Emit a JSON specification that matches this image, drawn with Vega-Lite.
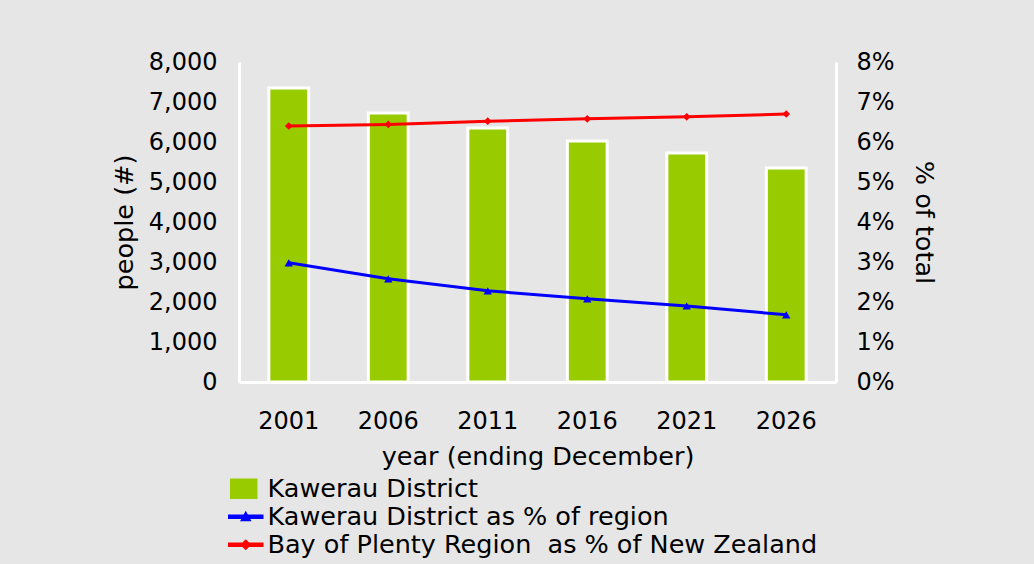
{
  "$schema": "https://vega.github.io/schema/vega-lite/v6.json",
  "width": 597,
  "height": 320,
  "autosize": "none",
  "padding": {"left": 239, "top": 62, "right": 198, "bottom": 182},
  "background": "#e6e6e6",
  "config": {
    "view": {"stroke": null},
    "font": "DejaVu Sans",
    "axis": {
      "domainColor": "white",
      "domainWidth": 3,
      "ticks": false,
      "grid": false,
      "labelFont": "DejaVu Sans",
      "labelFontSize": 24,
      "labelColor": "black",
      "titleFont": "DejaVu Sans",
      "titleFontSize": 25.5,
      "titleFontWeight": "normal",
      "titleColor": "black"
    }
  },
  "datasets": {
    "pop": [
      {"year": "2001", "people": 7350},
      {"year": "2006", "people": 6725},
      {"year": "2011", "people": 6350},
      {"year": "2016", "people": 6025},
      {"year": "2021", "people": 5725},
      {"year": "2026", "people": 5350}
    ],
    "share": [
      {"year": "2001", "series": "Kawerau District as % of region", "value": 0.0298},
      {"year": "2006", "series": "Kawerau District as % of region", "value": 0.0258},
      {"year": "2011", "series": "Kawerau District as % of region", "value": 0.0228},
      {"year": "2016", "series": "Kawerau District as % of region", "value": 0.0208},
      {"year": "2021", "series": "Kawerau District as % of region", "value": 0.0190},
      {"year": "2026", "series": "Kawerau District as % of region", "value": 0.0168},
      {"year": "2001", "series": "Bay of Plenty Region \u00a0as % of New Zealand", "value": 0.0640},
      {"year": "2006", "series": "Bay of Plenty Region \u00a0as % of New Zealand", "value": 0.0644},
      {"year": "2011", "series": "Bay of Plenty Region \u00a0as % of New Zealand", "value": 0.0652},
      {"year": "2016", "series": "Bay of Plenty Region \u00a0as % of New Zealand", "value": 0.0658},
      {"year": "2021", "series": "Bay of Plenty Region \u00a0as % of New Zealand", "value": 0.0663},
      {"year": "2026", "series": "Bay of Plenty Region \u00a0as % of New Zealand", "value": 0.0670}
    ]
  },
  "layer": [
    {
      "data": {"name": "share"},
      "mark": {"type": "point", "filled": true, "opacity": 0, "size": 1},
      "encoding": {
        "color": {
          "field": "series",
          "scale": {
            "domain": ["Kawerau District", "Kawerau District as % of region", "Bay of Plenty Region \u00a0as % of New Zealand"],
            "range": ["#99cc00", "#0000ff", "#ff0000"]
          },
          "legend": {
            "orient": "none", "legendX": -6, "legendY": 414, "title": null, "padding": 0,
            "symbolSize": 400, "symbolOpacity": 1,
            "labelFont": "DejaVu Sans", "labelFontSize": 25.5, "labelColor": "black",
            "labelOffset": 9, "rowPadding": 1, "labelLimit": 700
          }
        },
        "shape": {
          "field": "series",
          "scale": {
            "domain": ["Kawerau District", "Kawerau District as % of region", "Bay of Plenty Region \u00a0as % of New Zealand"],
            "range": [
              "M-1.5,-0.95L1.1,-0.95L1.1,0.95L-1.5,0.95Z",
              "M-1.7,-0.15L1.7,-0.15L1.7,0.15L-1.7,0.15Z M-0.45,0.38L0,-0.45L0.45,0.38Z",
              "M-1.7,-0.15L1.7,-0.15L1.7,0.15L-1.7,0.15Z M0,-0.45L0.45,0L0,0.45L-0.45,0Z"
            ]
          },
          "legend": {
            "orient": "none", "legendX": -6, "legendY": 414, "title": null, "padding": 0,
            "symbolSize": 400, "symbolOpacity": 1,
            "labelFont": "DejaVu Sans", "labelFontSize": 25.5, "labelColor": "black",
            "labelOffset": 9, "rowPadding": 1, "labelLimit": 700
          }
        }
      }
    },
    {
      "data": {"name": "pop"},
      "mark": {"type": "bar", "stroke": "white", "strokeWidth": 3},
      "encoding": {
        "x": {
          "field": "year", "type": "ordinal",
          "scale": {"paddingInner": 0.6, "paddingOuter": 0.3},
          "axis": {"labelAngle": 0, "labelPadding": 27, "title": "year (ending December)", "titlePadding": 11}
        },
        "y": {
          "field": "people", "type": "quantitative",
          "scale": {"domain": [0, 8000], "nice": false},
          "axis": {"orient": "left", "values": [0,1000,2000,3000,4000,5000,6000,7000,8000], "format": ",d", "labelPadding": 22, "title": "people (#)", "titlePadding": 11}
        },
        "color": {"datum": "Kawerau District", "legend": null}
      }
    },
    {
      "data": {"name": "share"},
      "encoding": {
        "x": {"field": "year", "type": "ordinal"},
        "y": {
          "field": "value", "type": "quantitative",
          "scale": {"domain": [0, 0.08], "nice": false},
          "axis": {"orient": "right", "values": [0,0.01,0.02,0.03,0.04,0.05,0.06,0.07,0.08], "format": ".0%", "labelPadding": 20, "title": "% of total", "titlePadding": 16}
        },
        "color": {"field": "series", "legend": null}
      },
      "layer": [
        {"mark": {"type": "line", "strokeWidth": 3}},
        {
          "transform": [{"filter": "datum.series === 'Kawerau District as % of region'"}],
          "mark": {"type": "point", "shape": "triangle-up", "filled": true, "opacity": 1, "size": 70}
        },
        {
          "transform": [{"filter": "datum.series !== 'Kawerau District as % of region'"}],
          "mark": {"type": "point", "shape": "diamond", "filled": true, "opacity": 1, "size": 60}
        }
      ]
    }
  ],
  "resolve": {"scale": {"y": "independent"}}
}
